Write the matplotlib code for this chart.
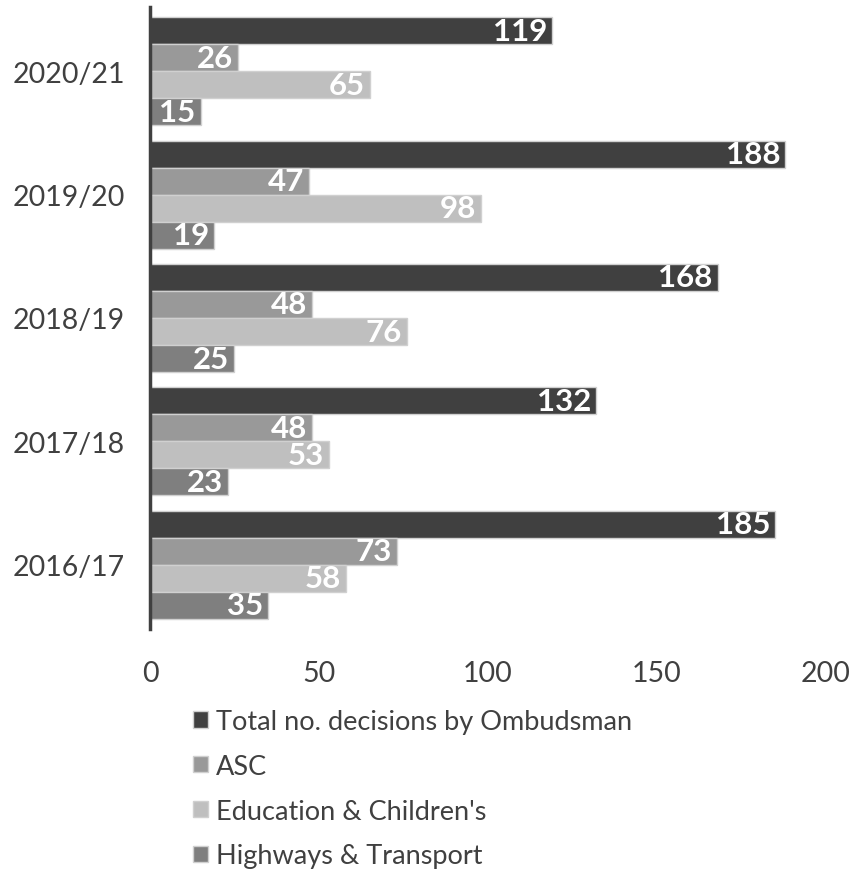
import matplotlib
matplotlib.use("Agg")
import matplotlib.pyplot as plt
import numpy as np
from matplotlib.patches import Patch

years = ["2016/17", "2017/18", "2018/19", "2019/20", "2020/21"]
series_names = ["Total no. decisions by Ombudsman", "ASC", "Education & Children's", "Highways & Transport"]
total = [185, 132, 168, 188, 119]
asc = [73, 48, 48, 47, 26]
edu = [58, 53, 76, 98, 65]
highways = [35, 23, 25, 19, 15]
colors = ["#404040", "#999999", "#bfbfbf", "#7f7f7f"]

plt.rcParams['font.family'] = ['Lato', 'DejaVu Sans']

fig = plt.figure(figsize=(8.54, 8.70), dpi=100)
ax = fig.add_axes([150/854, 1-630/870, 676/854, 622/870])

y = np.arange(len(years))
w = 0.219
offsets = [1.5*w, 0.5*w, -0.5*w, -1.5*w]
for vals, off, c in zip([total, asc, edu, highways], offsets, colors):
    bars = ax.barh(y + off, vals, height=w, color=c, edgecolor="#d0d0d0", linewidth=1.0)
    for b, v in zip(bars, vals):
        ax.text(b.get_width() - 1.5, b.get_y() + b.get_height()/2, str(v),
                ha="right", va="center", color="white", fontweight="bold", fontsize=22.5)

ax.set_xlim(0, 200)
ax.set_ylim(-0.52, 4.52)
ax.set_xticks([0, 50, 100, 150, 200])
ax.set_yticks(y)
ax.set_yticklabels(years)
ax.tick_params(axis="both", length=0, labelsize=20.5, colors="#404040")
ax.tick_params(axis="x", pad=22)
ax.tick_params(axis="y", pad=18)
for s in ["top", "right", "bottom"]:
    ax.spines[s].set_visible(False)
ax.spines["left"].set_color("#404040")
ax.spines["left"].set_linewidth(2.5)

handles = [Patch(facecolor=c, edgecolor="#d0d0d0") for c in colors]
fig.legend(handles, series_names, loc="upper left", bbox_to_anchor=(193/854, 1-710/870),
           frameon=False, fontsize=19.5, labelcolor="#404040", handlelength=0.55, handleheight=0.55,
           handletextpad=0.3, labelspacing=0.73, borderaxespad=0, borderpad=0)

fig.savefig("out.png", dpi=100)
